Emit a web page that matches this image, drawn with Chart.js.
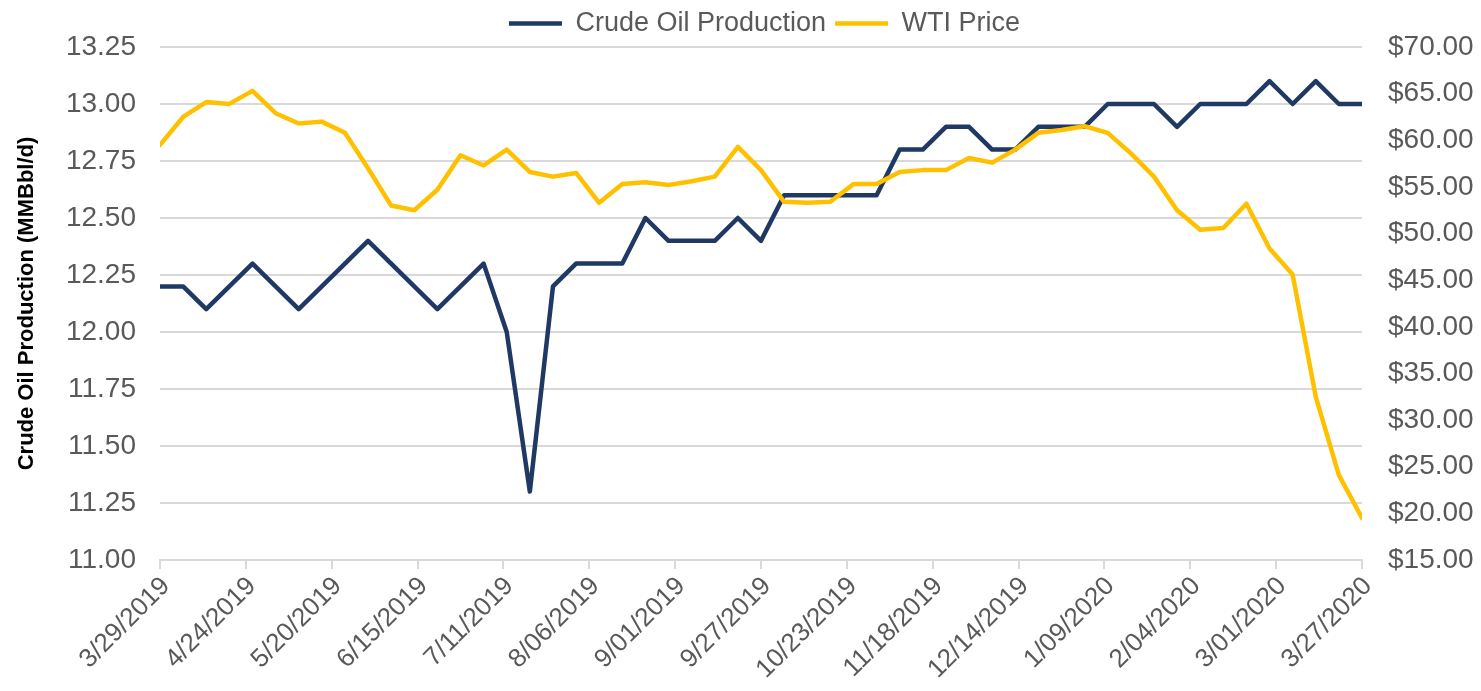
<!DOCTYPE html>
<html>
<head>
<meta charset="utf-8">
<script src="https://cdn.jsdelivr.net/npm/chart.js@4"></script>
<style>
  html, body { margin: 0; padding: 0; background: #ffffff; }
  #wrap { width: 1481px; height: 691px; position: relative; }
</style>
</head>
<body>
<div id="wrap"><canvas id="c" width="1481" height="691"></canvas></div>
<script>
const weekDates = [
  "3/29/2019","4/05/2019","4/12/2019","4/19/2019","4/26/2019","5/03/2019","5/10/2019","5/17/2019","5/24/2019","5/31/2019",
  "6/07/2019","6/14/2019","6/21/2019","6/28/2019","7/05/2019","7/12/2019","7/19/2019","7/26/2019","8/02/2019","8/09/2019",
  "8/16/2019","8/23/2019","8/30/2019","9/06/2019","9/13/2019","9/20/2019","9/27/2019","10/04/2019","10/11/2019","10/18/2019",
  "10/25/2019","11/01/2019","11/08/2019","11/15/2019","11/22/2019","11/29/2019","12/06/2019","12/13/2019","12/20/2019","12/27/2019",
  "1/03/2020","1/10/2020","1/17/2020","1/24/2020","1/31/2020","2/07/2020","2/14/2020","2/21/2020","2/28/2020","3/06/2020",
  "3/13/2020","3/20/2020","3/27/2020"
];

const xTickLabels = [
  "3/29/2019","4/24/2019","5/20/2019","6/15/2019","7/11/2019","8/06/2019","9/01/2019","9/27/2019",
  "10/23/2019","11/18/2019","12/14/2019","1/09/2020","2/04/2020","3/01/2020","3/27/2020"
];

const production = [
  12.2,12.2,12.1,12.2,12.3,12.2,12.1,12.2,12.3,12.4,
  12.3,12.2,12.1,12.2,12.3,12.0,11.3,12.2,12.3,12.3,
  12.3,12.5,12.4,12.4,12.4,12.5,12.4,12.6,12.6,12.6,
  12.6,12.6,12.8,12.8,12.9,12.9,12.8,12.8,12.9,12.9,
  12.9,13.0,13.0,13.0,12.9,13.0,13.0,13.0,13.1,13.0,
  13.1,13.0,13.0
];

const wtiPrice = [
  59.5,62.5,64.1,63.9,65.3,62.9,61.8,62.0,60.8,57.0,
  53.0,52.5,54.7,58.4,57.3,59.0,56.6,56.1,56.5,53.3,
  55.3,55.5,55.2,55.6,56.1,59.3,56.8,53.4,53.3,53.4,
  55.3,55.3,56.6,56.8,56.8,58.1,57.6,59.0,60.8,61.1,
  61.5,60.8,58.6,56.1,52.5,50.4,50.6,53.2,48.4,45.6,
  32.5,24.1,19.5
];

const seriesNames = ["Crude Oil Production", "WTI Price"];
const seriesColors = ["#1F3864", "#FFC000"];
const leftAxisTitle = "Crude Oil Production (MMBbl/d)";

function toUTC(s) {
  const [m, d, y] = s.split("/").map(Number);
  return Date.UTC(y, m - 1, d);
}
const t0 = toUTC(weekDates[0]);
const dayOf = s => Math.round((toUTC(s) - t0) / 86400000);
const xMax = dayOf(xTickLabels[xTickLabels.length - 1]);
const xStep = dayOf(xTickLabels[1]);

const FONT = "'Liberation Sans', Arial, sans-serif";
const GRID = "#d9d9d9";
const TXT = "#595959";

const legendShift = {
  id: 'legendShift',
  afterLayout(chart) {
    if (chart.legend) { chart.legend.left += 24; chart.legend.right += 24; }
  }
};

new Chart(document.getElementById('c'), {
  type: 'line',
  data: {
    datasets: [
      {
        label: seriesNames[0],
        data: weekDates.map((d, i) => ({ x: dayOf(d), y: production[i] })),
        borderColor: seriesColors[0],
        backgroundColor: seriesColors[0],
        borderWidth: 4.5,
        pointRadius: 0,
        tension: 0,
        borderJoinStyle: 'round',
        borderCapStyle: 'round',
        yAxisID: 'y',
        order: 1
      },
      {
        label: seriesNames[1],
        data: weekDates.map((d, i) => ({ x: dayOf(d), y: wtiPrice[i] })),
        borderColor: seriesColors[1],
        backgroundColor: seriesColors[1],
        borderWidth: 4.5,
        pointRadius: 0,
        tension: 0,
        borderJoinStyle: 'round',
        borderCapStyle: 'round',
        yAxisID: 'y1',
        order: 0
      }
    ]
  },
  options: {
    responsive: false,
    animation: false,
    layout: { padding: { top: 1, left: 0, right: 0, bottom: 0 } },
    plugins: {
      tooltip: { enabled: false },
      legend: {
        position: 'top',
        labels: {
          font: { family: FONT, size: 27 },
          color: TXT,
          usePointStyle: true,
          pointStyle: 'line',
          pointStyleWidth: 53,
          boxHeight: 27,
          padding: 9,
          sort: (a, b) => a.datasetIndex - b.datasetIndex
        }
      }
    },
    scales: {
      x: {
        type: 'linear',
        min: 0,
        max: xMax,
        afterFit(s) { s.height = 131; },
        border: { display: true, color: GRID, width: 2 },
        grid: { display: true, drawOnChartArea: false, drawTicks: true, tickLength: 9, color: GRID, lineWidth: 2 },
        ticks: {
          stepSize: xStep,
          autoSkip: false,
          maxRotation: 45,
          minRotation: 45,
          padding: 2,
          labelOffset: 6,
          color: TXT,
          font: { family: FONT, size: 26 },
          callback: (v, i) => xTickLabels[i]
        }
      },
      y: {
        position: 'left',
        min: 11,
        max: 13.25,
        afterFit(s) { s.width = 160; },
        border: { display: false },
        grid: { color: GRID, lineWidth: 2, drawTicks: false },
        ticks: {
          stepSize: 0.25,
          padding: 24,
          color: TXT,
          font: { family: FONT, size: 28 },
          callback: v => Number(v).toFixed(2)
        },
        title: {
          display: true,
          text: leftAxisTitle,
          color: '#000000',
          font: { family: FONT, size: 22, weight: 'bold' },
          padding: { top: 14, bottom: 0 }
        }
      },
      y1: {
        position: 'right',
        min: 15,
        max: 70,
        afterFit(s) { s.width = 119; },
        border: { display: false },
        grid: { drawOnChartArea: false, drawTicks: false },
        ticks: {
          stepSize: 5,
          padding: 26,
          color: TXT,
          font: { family: FONT, size: 28 },
          callback: v => '$' + Number(v).toFixed(2)
        }
      }
    }
  },
  plugins: [legendShift]
});
</script>
</body>
</html>
